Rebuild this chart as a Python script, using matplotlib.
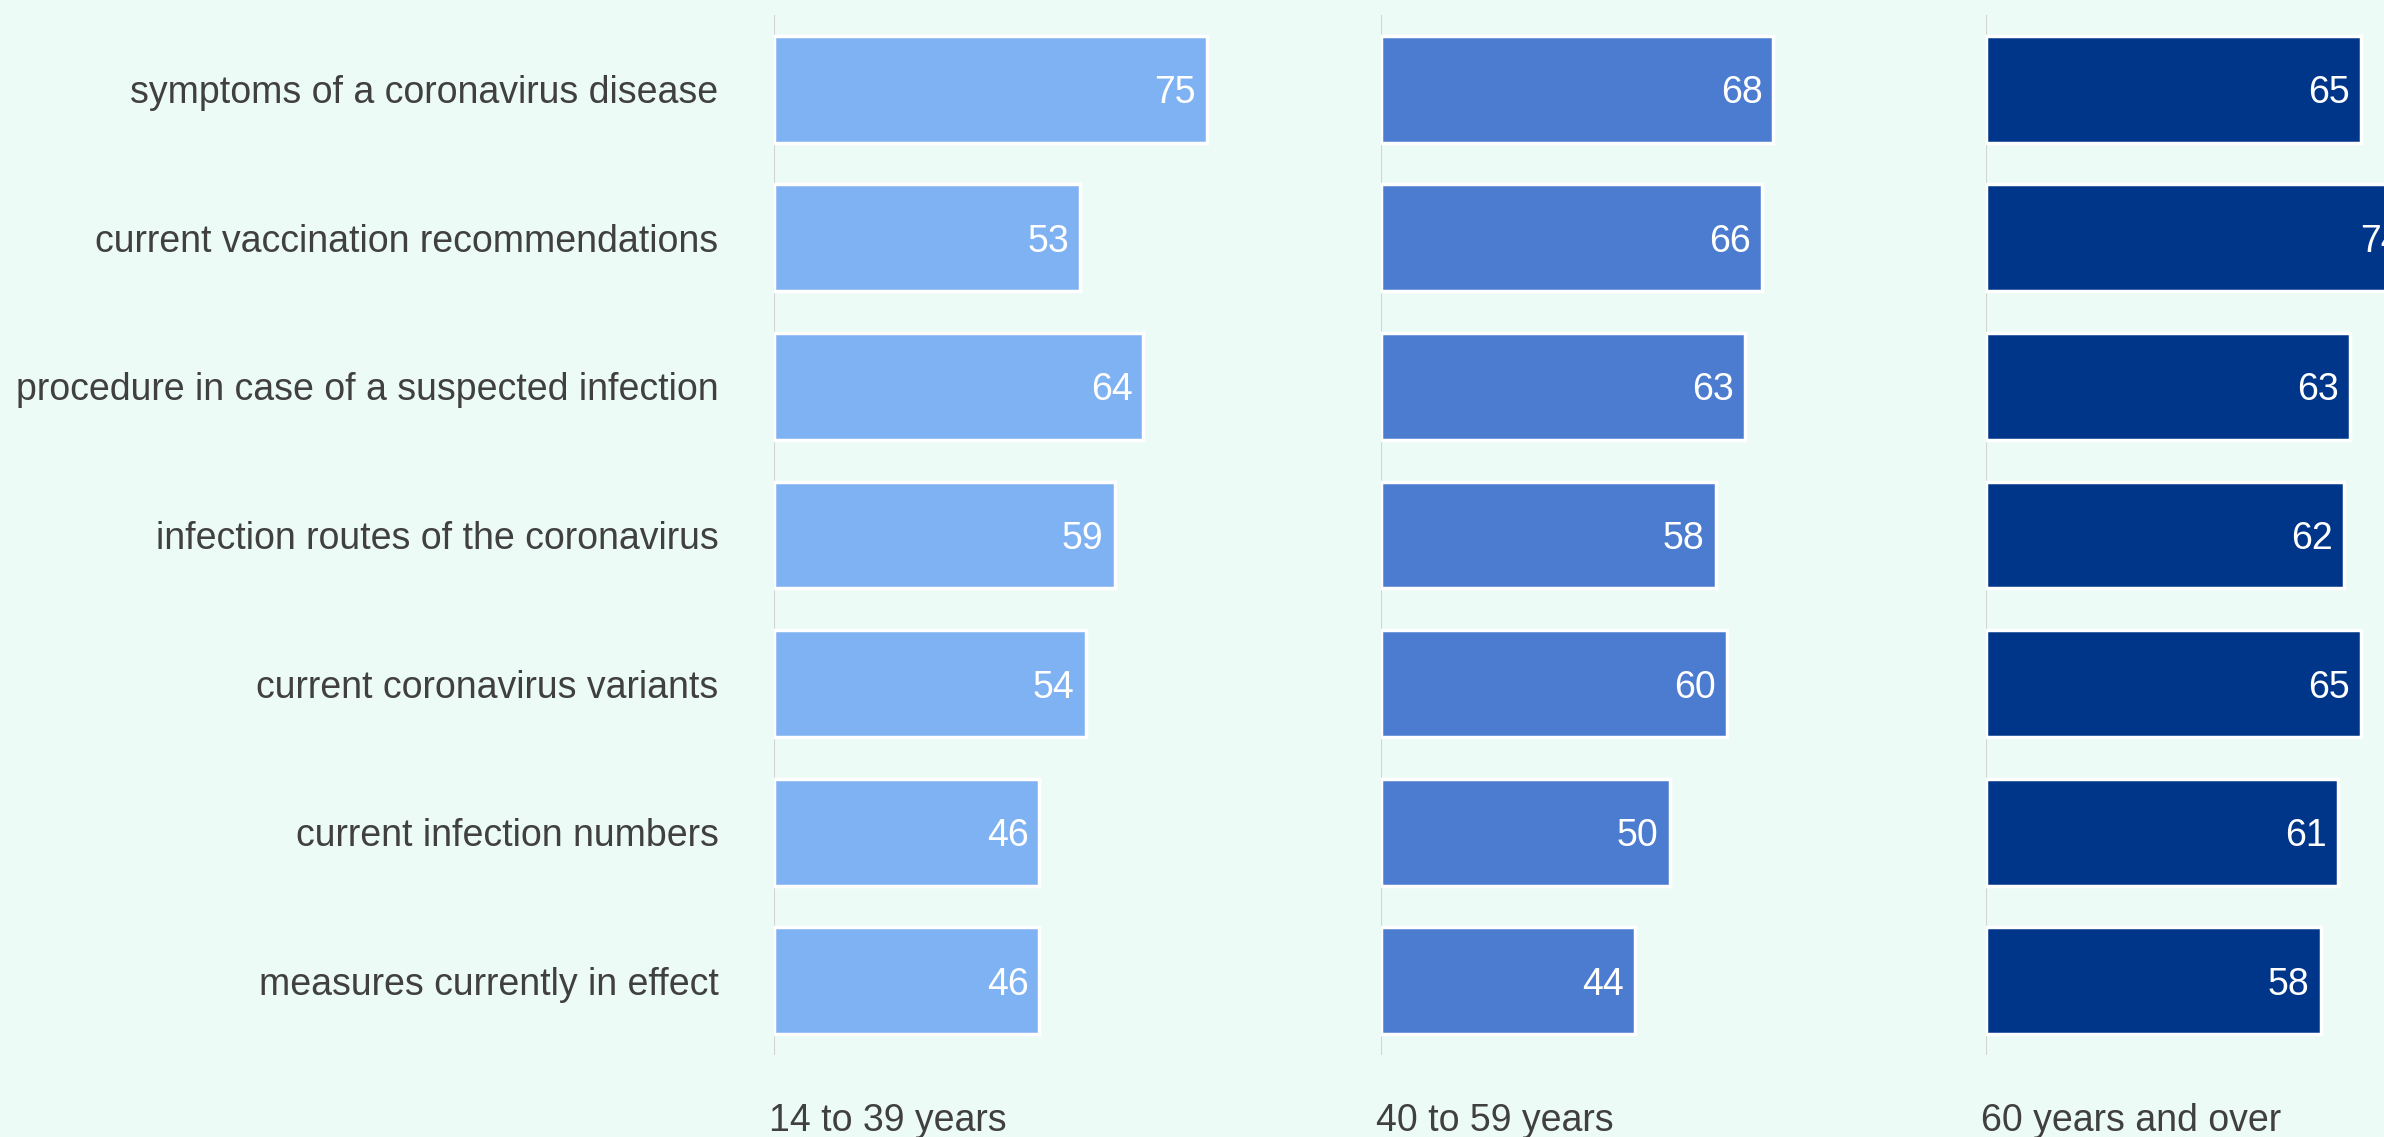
import matplotlib.pyplot as plt

# data
topics = ['symptoms of a coronavirus disease',
          'current vaccination recommendations',
          'procedure in case of a suspected infection',
          'infection routes of the coronavirus',
          'current coronavirus variants',
          'current infection numbers',
          'measures currently in effect']
groups = ['14 to 39 years', '40 to 59 years', '60 years and over']
young = [75, 53, 64, 59, 54, 46, 46]
middle = [68, 66, 63, 58, 60, 50, 44]
old = [65, 74, 63, 62, 65, 61, 58]
colors = ['#7fb2f2', '#4c7cd0', '#00368a']

W, H = 2384, 1137
bg = '#edfbf6'
txt = '#404040'
plt.rcParams['font.family'] = ['Liberation Sans', 'DejaVu Sans']

fig = plt.figure(figsize=(W / 100, H / 100), dpi=100, facecolor=bg)

x0 = [774, 1381, 1986]
pw = 606
top, bot = 15, 1055
fs = 27

for i, vals in enumerate([young, middle, old]):
    ax = fig.add_axes([x0[i] / W, 1 - bot / H, pw / W, (bot - top) / H])
    ax.set_facecolor('none')
    ypos = list(range(len(topics)))
    ax.barh(ypos, vals, height=0.72, color=colors[i], edgecolor='white', linewidth=2.5)
    ax.set_xlim(0, 105)
    ax.set_ylim(len(topics) - 0.5, -0.5)
    ax.axvline(0, color='#d0d4d2', linewidth=1.5, zorder=0)
    for y, v in zip(ypos, vals):
        ax.text(v - 1.9, y, str(v), color='white', fontsize=fs, ha='right',
                va='center_baseline', clip_on=False)
    for s in ax.spines.values():
        s.set_visible(False)
    ax.set_xticks([])
    if i == 0:
        ax.set_yticks(ypos)
        ax.set_yticklabels(topics, fontsize=fs, color=txt)
        ax.tick_params(axis='y', length=0, pad=40)
    else:
        ax.set_yticks([])
    fig.text((x0[i] - 5) / W, 1 - 1117 / H, groups[i], fontsize=fs, color=txt,
             ha='left', va='center_baseline')

fig.savefig('out.png', dpi=100, facecolor=bg)
